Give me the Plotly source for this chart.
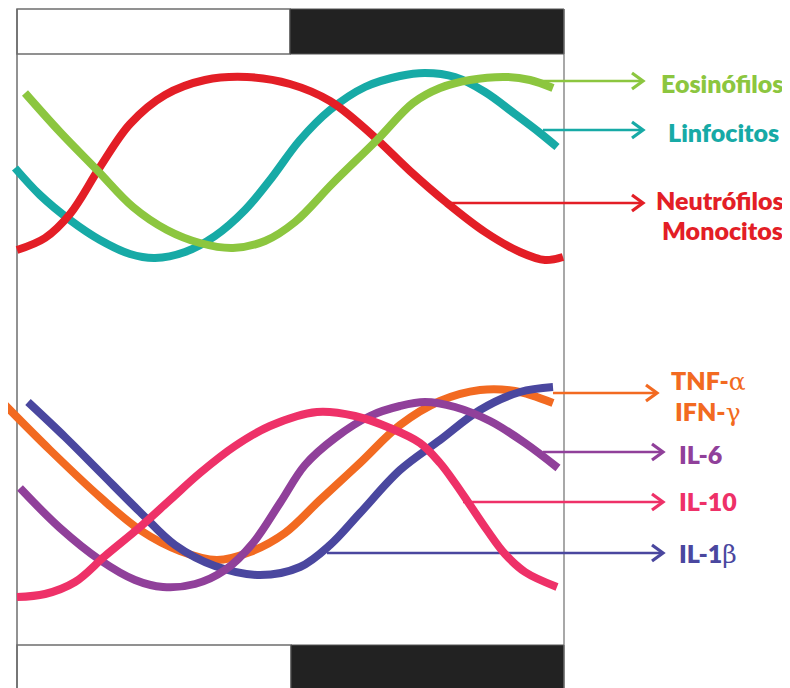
import plotly.graph_objects as go

# ---- data (chart units: horizontal position, vertical level; y grows downward) ----
red_x = [17, 45, 70, 100, 130, 165, 205, 247, 290, 330, 370, 410, 447, 485, 520, 545, 563]
red_y = [250, 238, 214, 167, 124, 95, 80, 77, 84, 101, 133, 171, 203, 232, 252, 260, 257]

teal_x = [15, 40, 70, 100, 130, 155, 185, 215, 245, 270, 300, 330, 365, 400, 425, 455, 485, 515, 540, 557]
teal_y = [168, 195, 220, 240, 254, 258, 252, 236, 210, 180, 140, 110, 87, 76, 73, 77, 92, 114, 133, 147]

green_x = [25, 60, 97, 133, 167, 200, 233, 265, 295, 333, 377, 413, 440, 470, 507, 530, 553]
green_y = [93, 132, 170, 207, 230, 243, 248, 241, 222, 183, 140, 103, 88, 80, 77, 80, 88]

orange_x = [5, 50, 100, 140, 180, 217, 250, 285, 320, 360, 400, 440, 480, 515, 553]
orange_y = [405, 450, 497, 530, 551, 560, 552, 533, 500, 463, 425, 401, 390, 391, 403]

navy_x = [28, 65, 100, 140, 175, 215, 260, 300, 330, 360, 400, 440, 480, 520, 553]
navy_y = [402, 437, 472, 512, 545, 566, 575, 567, 545, 513, 470, 440, 410, 392, 387]

purple_x = [20, 60, 100, 135, 163, 195, 225, 253, 280, 305, 335, 370, 400, 425, 455, 490, 525, 558]
purple_y = [488, 528, 560, 580, 587, 584, 570, 543, 503, 465, 438, 416, 406, 402, 407, 421, 443, 468]

pink_x = [17, 45, 75, 105, 140, 170, 200, 235, 270, 317, 355, 390, 420, 440, 455, 470, 487, 505, 525, 557]
pink_y = [597, 594, 582, 556, 527, 500, 473, 446, 426, 412, 416, 428, 443, 463, 483, 505, 530, 554, 572, 587]

# arrows: start x, tip x, level
arrow_start = [540, 543, 447, 553, 543, 463, 327]
arrow_tip = [643, 643, 643, 657, 663, 663, 663]
arrow_y = [81, 130, 203, 393, 452, 502, 553]

C_GREEN = "#8cc63f"
C_TEAL = "#17aaa6"
C_RED = "#e31e26"
C_ORANGE = "#f26a21"
C_NAVY = "#4a479f"
C_PURPLE = "#90409a"
C_PINK = "#ee3168"
arrow_col = [C_GREEN, C_TEAL, C_RED, C_ORANGE, C_PURPLE, C_PINK, C_NAVY]

fig = go.Figure()

def curve(x, y, col):
    fig.add_trace(go.Scatter(x=x, y=y, mode="lines",
                             line=dict(color=col, width=8, shape="spline", smoothing=1.0),
                             hoverinfo="skip", showlegend=False))

# arrows (drawn beneath curves)
for xs, xt, yy, col in zip(arrow_start, arrow_tip, arrow_y, arrow_col):
    fig.add_trace(go.Scatter(x=[xs, xt], y=[yy, yy], mode="lines",
                             line=dict(color=col, width=2.5),
                             hoverinfo="skip", showlegend=False))
    fig.add_trace(go.Scatter(x=[xt - 11, xt, xt - 11], y=[yy - 8, yy, yy + 8], mode="lines",
                             line=dict(color=col, width=3.2),
                             hoverinfo="skip", showlegend=False))

curve(teal_x, teal_y, C_TEAL)
curve(red_x, red_y, C_RED)
curve(green_x, green_y, C_GREEN)
curve(orange_x, orange_y, C_ORANGE)
curve(navy_x, navy_y, C_NAVY)
curve(purple_x, purple_y, C_PURPLE)
curve(pink_x, pink_y, C_PINK)

FONT = "Lato, 'Open Sans', sans-serif"
GREEK = "<span style='font-family:\"DejaVu Serif\", \"Liberation Serif\", serif;font-weight:normal'>%s</span>"

labels = [
    ("Eosinófilos", 722, 83, C_GREEN, "center"),
    ("Linfocitos", 723, 132, C_TEAL, "center"),
    ("Neutrófilos", 720, 200, C_RED, "center"),
    ("Monocitos", 722, 230, C_RED, "center"),
    ("TNF-" + GREEK % "α", 708, 380, C_ORANGE, "center"),
    ("IFN-" + GREEK % "γ", 708, 411, C_ORANGE, "center"),
    ("IL-6", 677, 454, C_PURPLE, "left"),
    ("IL-10", 677, 501, C_PINK, "left"),
    ("IL-1" + GREEK % "β", 677, 553, C_NAVY, "left"),
]
for txt, x, y, col, anc in labels:
    fig.add_annotation(x=x, y=y, text=txt, showarrow=False, xanchor=anc, yanchor="middle",
                       font=dict(family=FONT, size=25, color=col, weight=800))

edge = "#6e6e6e"
shapes = [
    dict(type="rect", x0=17, x1=290, y0=9, y1=54, fillcolor="white", line=dict(color=edge, width=1.5)),
    dict(type="rect", x0=290, x1=564, y0=9, y1=54, fillcolor="#222222", line=dict(color="#555", width=1)),
    dict(type="rect", x0=17, x1=291, y0=645, y1=700, fillcolor="white", line=dict(color=edge, width=1.5)),
    dict(type="rect", x0=291, x1=564, y0=645, y1=700, fillcolor="#222222", line=dict(color="#555", width=1)),
    dict(type="line", x0=17, x1=17, y0=9, y1=700, line=dict(color=edge, width=1.5)),
    dict(type="line", x0=564, x1=564, y0=9, y1=700, line=dict(color=edge, width=1.2)),
]
for s in shapes:
    s["xref"] = "x"
    s["yref"] = "y"
    s["layer"] = "below"
fig.update_layout(shapes=shapes)

# page body has an 8px margin: figure is 782x680 and covers chart units 8..790 / 8..688
fig.update_layout(
    width=782, height=680,
    margin=dict(l=0, r=0, t=0, b=0),
    paper_bgcolor="white", plot_bgcolor="white",
    xaxis=dict(range=[8, 790], visible=False, fixedrange=True),
    yaxis=dict(range=[688, 8], visible=False, fixedrange=True),
    showlegend=False,
)

fig.write_html("out.html")
